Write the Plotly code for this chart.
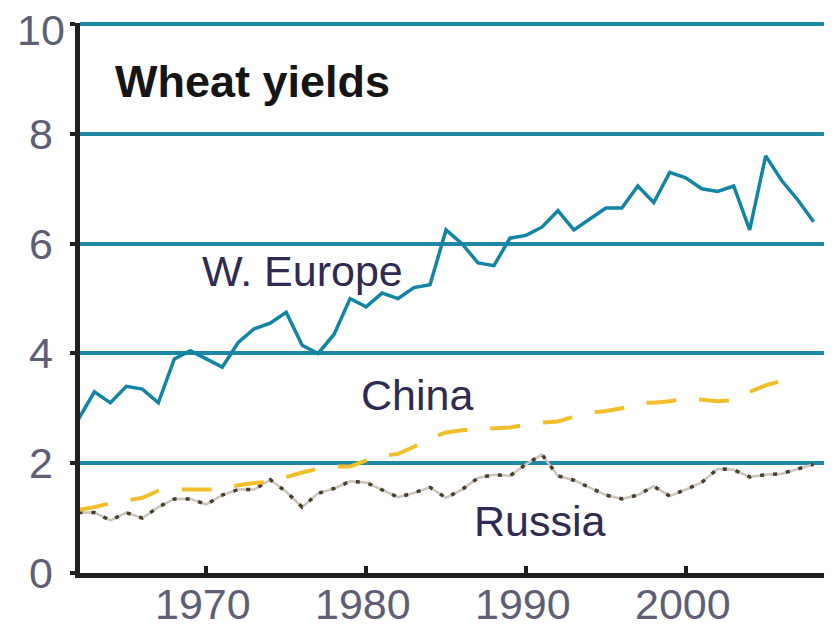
import plotly.graph_objects as go

# wheat yields, tonnes per hectare
years = list(range(1962, 2009))
w_europe = [2.8, 3.3, 3.1, 3.4, 3.35, 3.1, 3.9, 4.05, 3.9, 3.75,
            4.2, 4.45, 4.55, 4.75, 4.15, 4.0, 4.35, 5.0, 4.85, 5.1,
            5.0, 5.2, 5.25, 6.25, 6.0, 5.65, 5.6, 6.1, 6.15, 6.3,
            6.6, 6.25, 6.45, 6.65, 6.65, 7.05, 6.75, 7.3, 7.2, 7.0,
            6.95, 7.05, 6.25, 7.6, 7.15, 6.8, 6.4]
china_years = list(range(1962, 2008))
china = [1.15, 1.2, 1.27, 1.32, 1.37, 1.5, 1.52, 1.52, 1.52, 1.52,
         1.6, 1.64, 1.66, 1.75, 1.83, 1.9, 1.94, 1.94, 2.05, 2.13,
         2.17, 2.3, 2.45, 2.56, 2.6, 2.62, 2.63, 2.65, 2.7, 2.74,
         2.76, 2.85, 2.92, 2.95, 3.0, 3.1, 3.1, 3.13, 3.18, 3.15,
         3.13, 3.15, 3.3, 3.42, 3.5, 3.55]
russia = [1.1, 1.1, 0.96, 1.1, 1.0, 1.2, 1.35, 1.35, 1.25, 1.42,
          1.52, 1.52, 1.7, 1.48, 1.2, 1.45, 1.54, 1.67, 1.65, 1.52,
          1.38, 1.46, 1.56, 1.37, 1.52, 1.73, 1.79, 1.77, 1.98, 2.16,
          1.77, 1.69, 1.56, 1.42, 1.35, 1.42, 1.58, 1.4, 1.52, 1.65,
          1.9, 1.88, 1.75, 1.79, 1.81, 1.9, 1.98]

x_ticks = [1970, 1980, 1990, 2000]
y_ticks = [0, 2, 4, 6, 8, 10]

TEAL = "#1f88a2"
FONT = "Liberation Sans, Arial, sans-serif"
LABEL = "#2f2b52"
TICK = "#5e5e74"

fig = go.Figure()

# Russia: light grey line with dark dots on top
fig.add_trace(go.Scatter(x=years, y=russia, mode="lines",
                         line=dict(color="#c9c4bc", width=2.5),
                         hoverinfo="skip", showlegend=False))
fig.add_trace(go.Scatter(x=years, y=russia, mode="lines", name="Russia",
                         line=dict(color="#4a3e28", width=3.5, dash="4px,9px"),
                         showlegend=False))
fig.add_trace(go.Scatter(x=china_years, y=china, mode="lines", name="China",
                         line=dict(color="#f1bf2b", width=4, dash="30px,23px"),
                         showlegend=False))
fig.add_trace(go.Scatter(x=years, y=w_europe, mode="lines", name="W. Europe",
                         line=dict(color="#1285a4", width=3.5),
                         showlegend=False))

annotations = [
    dict(text="<b>Wheat yields</b>", x=1972.9, y=8.95, font=dict(size=45, color="#151515")),
    dict(text="W. Europe", x=1976.0, y=5.5, font=dict(size=43, color=LABEL)),
    dict(text="China", x=1983.2, y=3.25, font=dict(size=43, color=LABEL)),
    dict(text="Russia", x=1990.9, y=0.95, font=dict(size=43, color=LABEL)),
]
for a in annotations:
    a.update(xref="x", yref="y", showarrow=False, xanchor="center", yanchor="middle")
    a["font"]["family"] = FONT

# tick labels drawn as annotations so they sit where the reference puts them
for v in y_ticks:
    annotations.append(dict(text=str(v), xref="paper", yref="y", x=-0.052, y=v,
                            xanchor="center", yanchor="middle", showarrow=False,
                            yshift=-6 if v == 10 else 0,
                            font=dict(family=FONT, size=43, color=TICK)))
for v in x_ticks:
    annotations.append(dict(text=str(v), xref="x", yref="paper", x=v - 0.2, y=-0.057,
                            xanchor="center", yanchor="middle", showarrow=False,
                            font=dict(family=FONT, size=43, color=TICK)))

# the page body has an 8px margin, so the figure is 8px smaller than the window
fig.update_layout(
    width=827, height=620,
    margin=dict(l=72, r=11, t=15, b=55),
    paper_bgcolor="white", plot_bgcolor="white",
    annotations=annotations,
    xaxis=dict(range=[1962.1, 2008.65], tickvals=x_ticks, ticks="inside",
               ticklen=7, tickwidth=4, tickcolor="#231f20",
               showticklabels=False, automargin=False,
               showgrid=False, zeroline=False,
               showline=True, linecolor="#231f20", linewidth=4.5),
    yaxis=dict(range=[0, 10.02], tickvals=y_ticks, ticks="outside",
               ticklen=5, tickwidth=4, tickcolor="#231f20",
               showticklabels=False, automargin=False,
               showgrid=True, gridcolor=TEAL, gridwidth=4, zeroline=False,
               showline=True, linecolor="#231f20", linewidth=4.5),
)

fig.write_html("out.html")
